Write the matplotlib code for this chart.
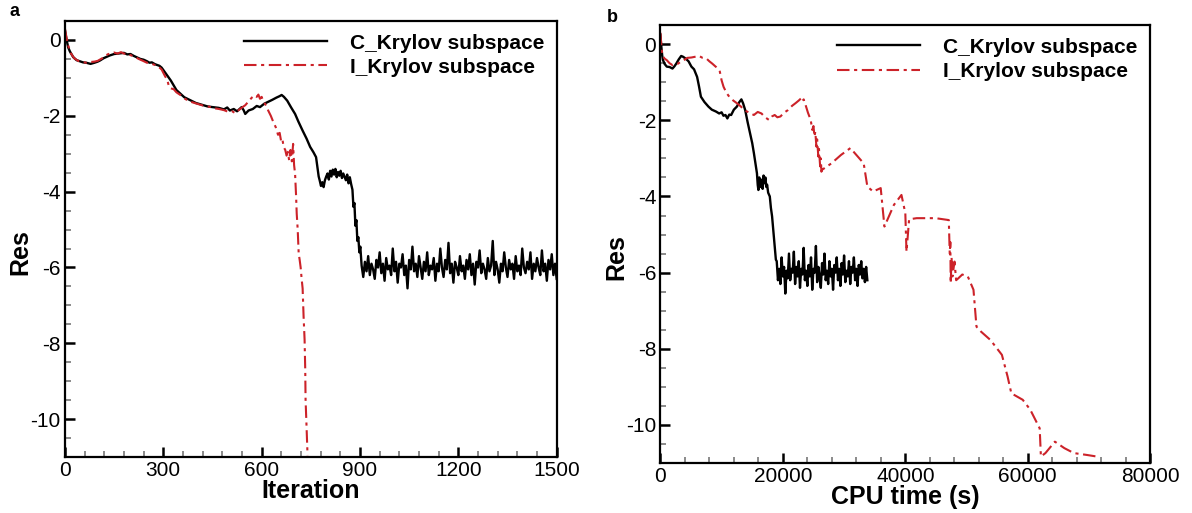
import numpy as np
import matplotlib
matplotlib.use("Agg")
from matplotlib import pyplot as plt
from matplotlib.ticker import MultipleLocator

plt.rcParams['font.family'] = ['Liberation Sans', 'DejaVu Sans']
plt.rcParams['axes.unicode_minus'] = False

# ---- panel a: residual vs iteration ----
# C_Krylov, smooth part
c_iter = [0, 5, 10, 15, 25, 35, 45, 55, 65, 78, 90, 100, 107, 118, 128, 136, 150, 160, 171, 180,
          190, 200, 210, 220, 230, 240, 250, 258, 265, 275, 282, 288, 295, 305, 315, 323, 332, 340,
          350, 364, 380, 399, 415, 434, 450, 469, 485, 495, 503, 515, 525, 539, 545, 550, 560, 573,
          585, 595, 608, 620, 632, 645, 655, 661, 668, 678, 690, 702, 712, 725, 737, 748, 758, 766,
          770, 774, 777, 781, 785, 789, 793, 797, 801, 805, 809, 813, 817, 821, 825, 829, 833, 837,
          841, 845, 849, 853, 857, 861, 865, 869, 873, 877, 880, 883, 886, 889, 892, 895, 898, 901]
c_res = [0.25, 0.0, -0.2, -0.3, -0.45, -0.53, -0.56, -0.59, -0.6, -0.63, -0.6, -0.57, -0.54, -0.48,
         -0.44, -0.41, -0.37, -0.36, -0.35, -0.34, -0.38, -0.37, -0.42, -0.46, -0.5, -0.52, -0.56,
         -0.6, -0.59, -0.64, -0.66, -0.68, -0.73, -0.85, -0.97, -1.07, -1.2, -1.32, -1.4, -1.51,
         -1.58, -1.66, -1.7, -1.75, -1.77, -1.79, -1.83, -1.78, -1.86, -1.82, -1.88, -1.77, -1.85,
         -1.95, -1.86, -1.82, -1.74, -1.77, -1.68, -1.63, -1.58, -1.52, -1.48, -1.45, -1.5, -1.6,
         -1.78, -1.95, -2.15, -2.39, -2.6, -2.82, -2.96, -3.09, -3.35, -3.6, -3.7, -3.85, -3.75,
         -3.88, -3.7, -3.6, -3.52, -3.68, -3.45, -3.6, -3.42, -3.55, -3.4, -3.62, -3.48, -3.58,
         -3.45, -3.64, -3.52, -3.61, -3.7, -3.55, -3.78, -3.62, -3.8, -3.95, -4.4, -4.3, -4.9,
         -4.75, -5.3, -5.2, -5.6, -5.45]
# C_Krylov, plateau after iteration 900 (one value every 5 iterations)
c_iter_tail = np.arange(905, 1501, 5)
c_res_tail = [-5.95, -6.25, -5.85, -6.1, -5.7, -6.2, -5.9, -6.05, -6.3, -5.8,
              -6.0, -5.6, -6.15, -5.9, -6.35, -5.75, -6.05, -5.95, -6.2, -5.5,
              -6.1, -5.85, -6.4, -5.9, -6.0, -5.65, -6.2, -5.95, -6.55, -5.8,
              -6.05, -5.45, -6.1, -5.9, -6.25, -5.7, -6.0, -6.3, -5.85, -6.1,
              -5.6, -6.2, -5.95, -6.05, -5.75, -6.35, -5.9, -6.1, -5.5, -6.0,
              -6.25, -5.8, -6.05, -5.35, -6.15, -5.9, -6.4, -5.85, -6.0, -6.2,
              -5.7, -6.1, -5.95, -6.3, -5.8, -6.05, -5.65, -6.2, -5.9, -6.45,
              -5.85, -6.0, -5.55, -6.15, -5.9, -6.05, -6.3, -5.75, -6.1, -5.95,
              -5.3, -6.2, -5.85, -6.05, -6.4, -5.9, -6.1, -5.6, -6.0, -6.25,
              -5.8, -6.05, -5.9, -6.3, -5.7, -6.1, -5.95, -6.2, -5.5, -6.0,
              -6.15, -5.85, -6.05, -5.6, -6.3, -5.9, -6.1, -5.75, -6.0, -6.2,
              -5.55, -6.1, -5.9, -6.35, -5.8, -6.05, -5.65, -6.2, -5.9, -6.3]

# I_Krylov
i_iter = [0, 5, 10, 18, 28, 40, 52, 65, 78, 90, 100, 110, 120, 130, 140, 150, 160, 171, 180, 190,
          200, 212, 225, 238, 250, 262, 275, 285, 295, 305, 312, 318, 325, 332, 340, 352, 366, 380,
          395, 410, 425, 440, 455, 470, 485, 500, 510, 520, 530, 540, 550, 560, 570, 579, 585, 590,
          595, 600, 605, 610, 615, 620, 628, 635, 643, 650, 655, 660, 664, 667, 672, 676, 680, 684,
          688, 692, 696, 699, 702, 705, 707, 710, 713, 716, 719, 722, 725, 728, 731, 733, 734, 737, 740]
i_res = [0.3, 0.05, -0.15, -0.35, -0.48, -0.55, -0.58, -0.6, -0.58, -0.57, -0.55, -0.5, -0.45,
         -0.38, -0.35, -0.33, -0.36, -0.32, -0.36, -0.35, -0.4, -0.44, -0.5, -0.55, -0.6, -0.62,
         -0.66, -0.7, -0.78, -0.95, -1.05, -1.25, -1.28, -1.3, -1.38, -1.45, -1.55, -1.62, -1.66,
         -1.7, -1.74, -1.76, -1.8, -1.82, -1.85, -1.9, -1.88, -1.93, -1.85, -1.78, -1.72, -1.62,
         -1.52, -1.46, -1.5, -1.44, -1.55, -1.5, -1.62, -1.68, -1.75, -1.86, -2.0, -2.15, -2.3,
         -2.5, -2.45, -2.7, -2.65, -2.82, -2.9, -3.05, -2.95, -3.18, -2.9, -3.2, -2.74, -3.3,
         -3.53, -4.1, -4.58, -5.0, -5.63, -5.8, -6.0, -6.3, -6.55, -7.3, -7.9, -8.7, -9.48,
         -10.2, -10.95]

# ---- panel b: residual vs CPU time ----
c_time = [0, 120, 300, 430, 700, 1050, 1500, 1980, 2300, 2600, 3000, 3400, 3700, 4140, 4600, 5070,
          5500, 6000, 6300, 6620, 7200, 7850, 8400, 9090, 9600, 10000, 10300, 10630, 10940, 11250,
          11560, 12000, 12490, 12900, 13230, 13500, 13850, 14250, 14650, 15000, 15270, 15500,
          15770, 15900, 16010, 16150, 16300, 16510, 16700, 16850, 17000, 17150, 17300, 17430,
          17600, 17870, 18050, 18240, 18450, 18670, 18860]
c_res_t = [0.25, 0.0, -0.3, -0.42, -0.52, -0.59, -0.6, -0.64, -0.58, -0.51, -0.4, -0.31, -0.33,
           -0.38, -0.45, -0.59, -0.66, -0.86, -1.1, -1.38, -1.52, -1.64, -1.72, -1.77, -1.82,
           -1.79, -1.88, -1.86, -1.95, -1.85, -1.86, -1.72, -1.64, -1.52, -1.45, -1.55, -1.73,
           -2.05, -2.34, -2.6, -2.86, -3.1, -3.39, -3.7, -3.83, -3.5, -3.75, -3.56, -3.8, -3.45,
           -3.65, -3.5, -3.75, -3.69, -3.9, -4.0, -4.3, -4.52, -4.9, -5.31, -5.66]
c_time_tail = np.arange(19000, 33801, 200)
c_res_t_tail = [-5.7, -6.2, -5.9, -6.3, -5.6, -6.1, -5.85, -6.55, -5.95, -6.15,
                -5.5, -6.2, -5.9, -6.0, -5.45, -6.3, -5.85, -6.1, -5.7, -6.4,
                -5.9, -6.05, -5.35, -6.2, -5.95, -6.35, -5.8, -6.1, -5.6, -6.45,
                -5.9, -6.0, -5.3, -6.25, -5.85, -6.1, -6.4, -5.75, -6.05, -5.5,
                -6.2, -5.95, -6.3, -5.7, -6.1, -5.9, -6.45, -5.8, -6.0, -5.6,
                -6.2, -5.9, -6.35, -5.75, -6.05, -5.55, -6.25, -5.95, -6.1, -5.7,
                -6.3, -5.85, -6.0, -5.6, -6.2, -5.9, -6.35, -5.8, -6.05, -5.7,
                -6.15, -5.9, -6.25, -5.85, -6.2]

i_time = [0, 150, 310, 700, 1050, 1500, 1980, 2400, 2900, 3400, 3830, 4400, 5070, 5700, 6310,
          6900, 7540, 8000, 8470, 9100, 9710, 10000, 10320, 10800, 11250, 11900, 12490, 13100,
          13720, 14500, 15270, 15900, 16510, 17100, 17740, 18200, 18670, 19100, 19600, 20200,
          20840, 21500, 22070, 22600, 23000, 23200, 23400, 23620, 24100, 24550, 24800, 25000,
          25170, 25300, 25480, 25600, 25790, 25900, 26090, 26200, 26300, 26400, 27940, 29490,
          31030, 33200, 33800, 34740, 35980, 36590, 38140, 39370, 40000, 40190, 40620, 41850,
          44950, 47100, 47250, 47350, 47410, 47550, 47700, 48030, 48300, 48650, 49300, 50200,
          51130, 51620, 52360, 53900, 55770, 56700, 57310, 59170, 60400, 61940, 62140, 62880,
          64420, 65970, 67520, 69680, 71230]
i_res_t = [0.3, 0.0, -0.29, -0.38, -0.42, -0.5, -0.55, -0.52, -0.51, -0.45, -0.42, -0.36, -0.35,
           -0.33, -0.31, -0.36, -0.38, -0.45, -0.51, -0.6, -0.72, -0.95, -1.12, -1.28, -1.38,
           -1.48, -1.55, -1.63, -1.73, -1.8, -1.86, -1.78, -1.82, -1.92, -1.99, -1.9, -1.86,
           -1.92, -1.9, -1.8, -1.73, -1.62, -1.55, -1.48, -1.42, -1.5, -1.45, -1.55, -1.8, -1.99,
           -2.25, -2.15, -2.43, -2.3, -2.69, -2.5, -2.95, -2.75, -3.21, -3.0, -3.35, -3.3, -3.13,
           -2.91, -2.73, -3.13, -3.74, -3.87, -3.78, -4.79, -4.22, -3.96, -4.44, -5.45, -4.6,
           -4.57, -4.57, -4.62, -5.5, -5.2, -6.28, -5.6, -6.1, -5.71, -6.2, -6.15, -6.05, -6.1,
           -6.45, -7.42, -7.55, -7.77, -8.16, -8.73, -9.17, -9.34, -9.6, -10.09, -10.83, -10.74,
           -10.44, -10.61, -10.74, -10.79, -10.83]

red = '#cc2229'
dashdot = (6, 2.2, 1.5, 2.2)

fig = plt.figure(figsize=(11.92, 5.13), dpi=100)
ax1 = fig.add_axes([0.0545, 0.109, 0.4125, 0.85])
ax2 = fig.add_axes([0.554, 0.0975, 0.411, 0.8535])


def style(ax, xmax, xmajor, xminor, xlabel):
    ax.set_xlim(0, xmax)
    ax.set_ylim(-11, 0.5)
    ax.xaxis.set_major_locator(MultipleLocator(xmajor))
    ax.xaxis.set_minor_locator(MultipleLocator(xminor))
    ax.yaxis.set_major_locator(MultipleLocator(2))
    ax.yaxis.set_minor_locator(MultipleLocator(0.5))
    ax.tick_params(which='both', direction='in', top=False, right=False, labelsize=15, width=1.2)
    ax.tick_params(which='major', length=7, width=1.8, pad=3)
    ax.tick_params(which='minor', length=4, color='#777777')
    for s in ax.spines.values():
        s.set_linewidth(1.6)
    ax.set_xlabel(xlabel, fontsize=18, fontweight='bold', labelpad=-1)
    ax.set_ylabel('Res', fontsize=18, fontweight='bold')
    ax.yaxis.set_label_coords(-0.066, 0.47)
    ax.legend(loc='upper right', frameon=False, prop={'weight': 'bold', 'size': 15},
              handlelength=4.0, handletextpad=1.1, borderaxespad=0.2, labelspacing=0.25)


ax1.plot(np.concatenate([c_iter, c_iter_tail]), np.concatenate([c_res, c_res_tail]),
         color='black', lw=1.7, label='C_Krylov subspace')
ax1.plot(i_iter, i_res, color=red, lw=1.5, dashes=dashdot, label='I_Krylov subspace')
style(ax1, 1500, 300, 60, 'Iteration')

ax2.plot(np.concatenate([c_time, c_time_tail]), np.concatenate([c_res_t, c_res_t_tail]),
         color='black', lw=1.7, label='C_Krylov subspace')
ax2.plot(i_time, i_res_t, color=red, lw=1.5, dashes=dashdot, label='I_Krylov subspace')
style(ax2, 80000, 20000, 4000, 'CPU time (s)')

fig.text(15 / 1192, 1 - 12 / 513, 'a', fontsize=13, fontweight='bold', ha='center', va='center')
fig.text(612 / 1192, 1 - 17 / 513, 'b', fontsize=13, fontweight='bold', ha='center', va='center')

fig.savefig('out.png', dpi=100)
